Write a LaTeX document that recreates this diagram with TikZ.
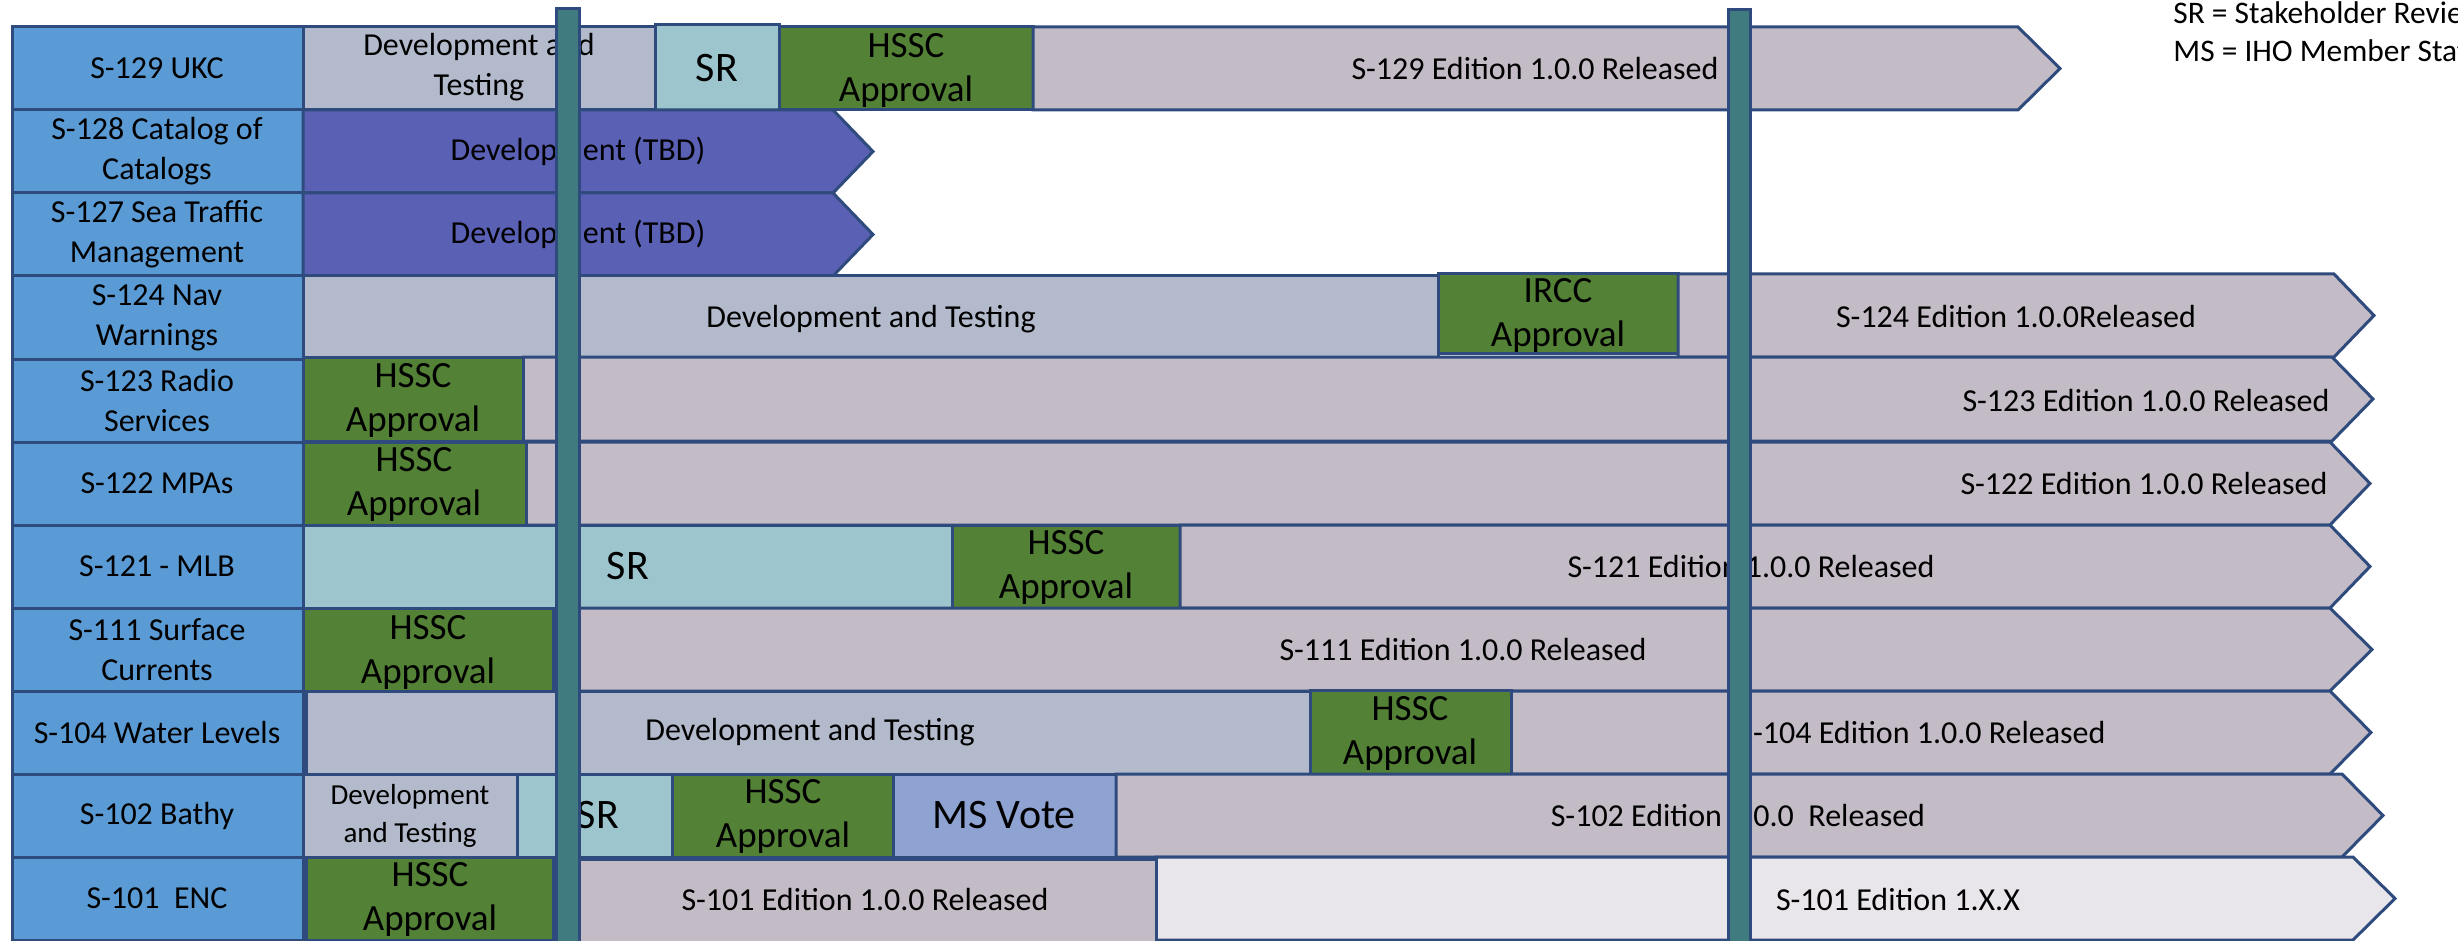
\documentclass[tikz,border=0pt]{standalone}
\usepackage{fontspec}
\setmainfont{Carlito}
\definecolor{lblue}{HTML}{5B9BD5}
\definecolor{devc}{HTML}{B2BACB}
\definecolor{src}{HTML}{9DC5CD}
\definecolor{hgreen}{HTML}{538135}
\definecolor{relc}{HTML}{C3BBC5}
\definecolor{purp}{HTML}{5A60B4}
\definecolor{msv}{HTML}{8FA3D2}
\definecolor{lightc}{HTML}{E9E6EB}
\definecolor{barc}{HTML}{407B80}
\definecolor{bordc}{HTML}{2F4B7D}
\newcommand\gbox[5]{\path[bd, fill=#5] (#1,#2) rectangle (#3,#4);}
\newcommand\garrow[6]{\path[bd, fill=#6] (#1,#2) -- (#3,#2) -- (#5,{(#2+#4)/2}) -- (#3,#4) -- (#1,#4) -- cycle;}
\begin{document}
\begin{tikzpicture}[x=0.5pt,y=-0.5pt,
  bd/.style={draw=bordc, line width=1.5pt, line join=miter},
  txt/.style={font=\fontsize{16}{20}\selectfont, align=center, inner sep=0pt},
  hs/.style={font=\fontsize{18.5}{22}\selectfont, align=center, inner sep=0pt},
  bigt/.style={font=\fontsize{21}{25}\selectfont, inner sep=0pt},
  smt/.style={font=\fontsize{14.5}{19}\selectfont, align=center, inner sep=0pt},
  leg/.style={font=\fontsize{15.7}{19}\selectfont, inner sep=0pt, anchor=base west}]
\useasboundingbox (0,0) rectangle (2458,941);
% labels column
\gbox{12}{27}{303}{110}{lblue}
\gbox{12}{110}{303}{193}{lblue}
\gbox{12}{193}{303}{276}{lblue}
\gbox{12}{276}{303}{359}{lblue}
\gbox{12}{359}{303}{442}{lblue}
\gbox{12}{442}{303}{525}{lblue}
\gbox{12}{525}{303}{608}{lblue}
\gbox{12}{608}{303}{691}{lblue}
\gbox{12}{691}{303}{774}{lblue}
\gbox{12}{774}{303}{857}{lblue}
\gbox{12}{857}{303}{940}{lblue}
\node[txt] (l0) at (157,68.5) {S-129 UKC};
\node[txt] (l1) at (157,151.5) {S-128 Catalog of\\Catalogs};
\node[txt] (l2) at (157,234.5) {S-127 Sea Traffic\\Management};
\node[txt] (l3) at (157,317.5) {S-124 Nav\\Warnings};
\node[txt] (l4) at (157,400.5) {S-123 Radio\\Services};
\node[txt] (l5) at (157,483.5) {S-122 MPAs};
\node[txt] (l6) at (157,566.5) {S-121 - MLB};
\node[txt] (l7) at (157,649.5) {S-111 Surface\\Currents};
\node[txt] (l8) at (157,732.5) {S-104 Water Levels};
\node[txt] (l9) at (157,815.5) {S-102 Bathy};
\node[txt] (l10) at (157,898.5) {S-101\ \ ENC};
% row 0
\gbox{303}{27}{655}{110}{devc}
\gbox{655}{25}{779}{111}{src}
\gbox{779}{27}{1033}{110}{hgreen}
\garrow{1033}{27}{2018}{110}{2060}{relc}
\node[txt] (d0) at (479,67) {Development and\\Testing};
\node[bigt] (s0) at (717,68.5) {SR};
\node[hs] (h0) at (906,70) {HSSC\\Approval};
\node[txt] (r0) at (1535,68.5) {S-129 Edition 1.0.0 Released};
% row 1
\garrow{303}{110}{833}{193}{873}{purp}
\node[txt] (d1) at (578,151.5) {Development (TBD)};
% row 2
\garrow{303}{193}{833}{276}{873}{purp}
\node[txt] (d2) at (578,234.5) {Development (TBD)};
% row 3
\gbox{303}{276}{1438}{359}{devc}
\gbox{1438}{274}{1678}{353}{hgreen}
\garrow{1678}{274}{2334}{357}{2374}{relc}
\node[txt] (d3) at (871,319) {Development and Testing};
\node[hs] (h3) at (1558,315) {IRCC\\Approval};
\node[txt] (r3) at (2016,317) {S-124 Edition 1.0.0Released};
% row 4
\garrow{523}{357}{2332}{441}{2373}{relc}
\gbox{303}{357}{523}{441}{hgreen}
\node[hs] (h4) at (413,400) {HSSC\\Approval};
\node[txt] (r4) at (2146,400.5) {S-123 Edition 1.0.0 Released};
% row 5
\garrow{526}{442}{2330}{525}{2370}{relc}
\gbox{303}{442}{526}{525}{hgreen}
\node[hs] (h5) at (414,484.5) {HSSC\\Approval};
\node[txt] (r5) at (2144,483.5) {S-122 Edition 1.0.0 Released};
% row 6
\gbox{303}{525}{952}{608}{src}
\gbox{952}{525}{1180}{608}{hgreen}
\garrow{1180}{525}{2330}{608}{2370}{relc}
\node[bigt] (s6) at (628,566.5) {SR};
\node[hs] (h6) at (1066,567.5) {HSSC\\Approval};
\node[txt] (r6) at (1751,566.5) {S-121 Edition 1.0.0 Released};
% row 7
\garrow{577}{608}{2330}{691}{2372}{relc}
\gbox{303}{608}{553}{691}{hgreen}
\node[hs] (h7) at (428,652) {HSSC\\Approval};
\node[txt] (r7) at (1463,649.5) {S-111 Edition 1.0.0 Released};
% row 8
\gbox{306}{691}{1310}{774}{devc}
\garrow{1511}{691}{2330}{774}{2371}{relc}
\gbox{1310}{690}{1511}{774}{hgreen}
\node[txt] (d8) at (810,732.5) {Development and Testing};
\node[hs] (h8) at (1410,733.5) {HSSC\\Approval};
\node[txt] (r8) at (1922,732.5) {S-104 Edition 1.0.0 Released};
% row 9
\gbox{303}{774}{517}{857}{devc}
\gbox{517}{774}{672}{857}{src}
\gbox{672}{774}{893}{857}{hgreen}
\gbox{893}{774}{1116}{857}{msv}
\garrow{1116}{774}{2342}{857}{2383}{relc}
\node[smt] (d9) at (410,815.5) {Development\\and Testing};
\node[bigt] (s9) at (598,815.5) {SR};
\node[hs] (h9) at (783,816.5) {HSSC\\Approval};
\node[bigt] (m9) at (1004,815.5) {MS Vote};
\node[txt] (r9) at (1738,815.5) {S-102 Edition 1.0.0\ \ Released};
% row 10
\garrow{1156}{857}{2353}{940}{2395}{lightc}
\gbox{576}{859}{1156}{942}{relc}
\gbox{306}{857}{553}{940}{hgreen}
\node[hs] (h10) at (430,899.5) {HSSC\\Approval};
\node[txt] (r10) at (865,900) {S-101 Edition 1.0.0 Released};
\node[txt] (x10) at (1898,900) {S-101 Edition 1.X.X};
% vertical bars
\path[bd, fill=barc] (556,9) rectangle (579,950);
\path[bd, fill=barc] (1728,10) rectangle (1750,950);
% legend
\node[leg] (leg1) at (2173,24) {SR = Stakeholder Review};
\node[leg] (leg2) at (2173,62) {MS = IHO Member State};
\end{tikzpicture}
\end{document}
